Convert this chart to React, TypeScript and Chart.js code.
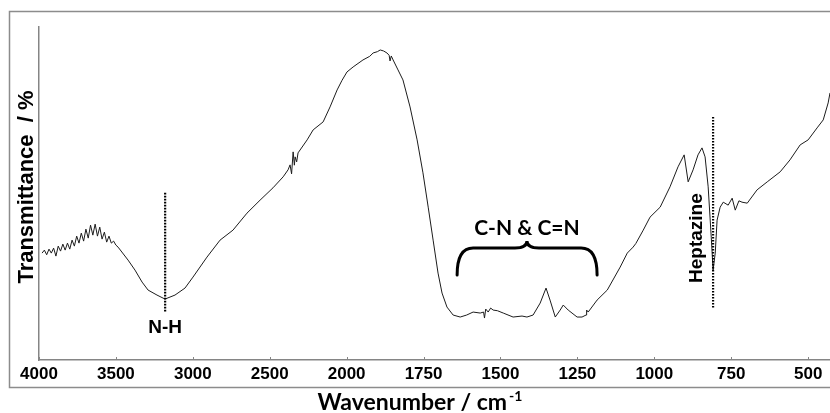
import { useEffect, useRef } from 'react';
import { Chart, LinearScale, registerables } from 'chart.js';

// FTIR spectrum of graphitic carbon nitride (wavenumber in cm^-1, transmittance in a.u. %)
const wavenumbers = [
  3980, 3965, 3950, 3935, 3920, 3905, 3890, 3875, 3860, 3845, 3830, 3815, 3800, 3785, 3770,
  3755, 3740, 3725, 3710, 3695, 3680, 3665, 3650, 3635, 3620, 3605, 3590, 3575, 3560, 3545,
  3530, 3515, 3500, 3486, 3421, 3376, 3330, 3291, 3233, 3181, 3116, 3051, 2999, 2908, 2823,
  2739, 2648, 2563, 2479, 2413, 2381, 2368, 2358, 2348, 2340, 2335, 2325, 2316, 2257, 2218,
  2153, 2108, 2062, 2030, 1999, 1979, 1947, 1925, 1914, 1900, 1891, 1880, 1869, 1862, 1859,
  1855, 1849, 1833, 1817, 1794, 1771, 1752, 1735, 1719, 1703, 1690, 1674, 1654, 1631, 1610,
  1589, 1566, 1555, 1552, 1548, 1540, 1532, 1524, 1510, 1491, 1459, 1430, 1414, 1394, 1371,
  1352, 1339, 1322, 1306, 1296, 1280, 1251, 1235, 1222, 1220, 1215, 1186, 1153, 1111, 1088,
  1069, 1060, 1036, 1014, 981, 949, 923, 903, 890, 874, 858, 845, 835, 825, 815,
  809, 802, 796, 786, 776, 760, 747, 737, 725, 715, 698, 666, 633, 591, 559,
  526, 500, 471, 451, 435, 429,
];
const transmittance = [
  32.1, 33.0, 31.6, 33.3, 32.1, 33.6, 31.2, 34.2, 32.7, 34.8, 33.0, 35.1, 33.3, 36.0, 34.2,
  37.2, 35.1, 38.1, 35.7, 39.3, 36.6, 40.5, 37.5, 40.8, 37.2, 39.9, 36.3, 38.4, 35.4, 37.2,
  35.1, 35.7, 34.5, 33.9, 30.0, 27.0, 23.4, 21.0, 19.5, 18.3, 19.5, 21.6, 24.9, 30.9, 36.0,
  39.0, 44.1, 48.0, 51.7, 55.0, 57.1, 58.6, 55.9, 62.5, 58.5, 61.0, 59.5, 62.2, 66.1, 69.1,
  71.5, 76.0, 81.1, 84.0, 86.5, 88.0, 90.1, 91.2, 92.2, 92.6, 93.1, 92.8, 92.2, 91.5, 89.8,
  91.3, 90.1, 87.1, 84.1, 76.0, 66.1, 56.2, 45.9, 36.0, 26.1, 20.1, 15.9, 13.5, 12.9, 13.5,
  14.4, 14.1, 14.4, 12.6, 15.3, 14.4, 15.6, 15.0, 14.8, 14.1, 12.9, 13.2, 12.9, 13.5, 17.1,
  21.6, 18.0, 12.9, 15.0, 16.5, 15.0, 12.9, 12.9, 13.5, 15.0, 14.4, 18.0, 21.0, 27.9, 32.1,
  33.9, 35.0, 39.0, 42.9, 45.9, 52.0, 58.0, 61.6, 53.5, 57.1, 61.6, 63.7, 61.0, 52.0, 36.9,
  27.0, 32.1, 42.0, 45.9, 47.4, 46.5, 48.6, 45.0, 47.8, 47.4, 47.1, 51.1, 53.5, 56.5, 60.1,
  64.6, 66.1, 69.7, 72.1, 77.2, 80.2,
];

const xTickValues = [4000, 3500, 3000, 2500, 2000, 1750, 1500, 1250, 1000, 750, 500];
const X_MIN = 429;
const X_MAX = 4000;
const SCALE_BREAK = 2000; // spectrometer doubles the expansion below 2000 cm^-1

const xTitle = 'Wavenumber / cm';
const xTitleSup = '-1';
const yTitle = 'Transmittance  / %';

// Band assignments
const nhBand = { label: 'N-H', wn: 3180, from: 14.4, to: 50.2, labelT: 8.1 };
const heptazineBand = { label: 'Heptazine', wn: 809, from: 15.6, to: 73.0, labelWn: 845, labelT: 36.6 };
const cnBand = { label: 'C-N & C=N', from: 1641, to: 1186, mid: 1414, braceT: 33.6, tipT: 25.5, cuspT: 35.7, labelT: 37.4 };

const SANS = '"Liberation Sans", Arial, sans-serif';
const CAL = 'Lato, "Open Sans", sans-serif';

// position in "panels": 500 cm^-1 per panel above the break, 250 cm^-1 below
function ftirPosition(wn: number, top: number) {
  const above = (top - SCALE_BREAK) / 500;
  return wn >= SCALE_BREAK ? (top - wn) / 500 : above + (SCALE_BREAK - wn) / 250;
}

class FtirScale extends LinearScale {
  static id = 'ftir';
  static defaults = LinearScale.defaults;
  getPixelForValue(value: number) {
    if (value === null || value === undefined || isNaN(value)) return NaN;
    const span = ftirPosition(this.min, this.max);
    return this.left + (ftirPosition(value, this.max) / span) * this.width;
  }
  getValueForPixel(pixel: number) {
    const span = ftirPosition(this.min, this.max);
    const p = ((pixel - this.left) / this.width) * span;
    const above = (this.max - SCALE_BREAK) / 500;
    return p <= above ? this.max - p * 500 : SCALE_BREAK - (p - above) * 250;
  }
}

Chart.register(...registerables, FtirScale as any);

const decorations = {
  id: 'ftirDecorations',
  afterDraw(chart: any) {
    const { ctx, scales } = chart;
    const xs = scales.x;
    const ys = scales.y;
    const area = chart.chartArea;
    ctx.save();

    // outer frame
    ctx.strokeStyle = '#8c8c8c';
    ctx.lineWidth = 1.5;
    ctx.strokeRect(9.5, 11.5, chart.width, 376);

    // small inward tick marks
    ctx.strokeStyle = '#858585';
    ctx.lineWidth = 1;
    xTickValues.forEach((v) => {
      const px = Math.round(xs.getPixelForValue(v)) + 0.5;
      ctx.beginPath();
      ctx.moveTo(px, area.bottom);
      ctx.lineTo(px, area.bottom - 3);
      ctx.stroke();
    });

    ctx.fillStyle = '#000';
    ctx.strokeStyle = '#000';

    // dotted band markers
    ctx.setLineDash([1.6, 1.4]);
    ctx.lineWidth = 2.2;
    [nhBand, heptazineBand].forEach((b) => {
      const px = xs.getPixelForValue(b.wn);
      ctx.beginPath();
      ctx.moveTo(px, ys.getPixelForValue(b.to));
      ctx.lineTo(px, ys.getPixelForValue(b.from));
      ctx.stroke();
    });
    ctx.setLineDash([]);

    // N-H label
    ctx.font = `bold 19px ${SANS}`;
    ctx.textAlign = 'center';
    ctx.textBaseline = 'alphabetic';
    ctx.fillText(nhBand.label, xs.getPixelForValue(nhBand.wn), ys.getPixelForValue(nhBand.labelT));

    // Heptazine label (vertical)
    ctx.save();
    ctx.translate(xs.getPixelForValue(heptazineBand.labelWn), ys.getPixelForValue(heptazineBand.labelT));
    ctx.rotate(-Math.PI / 2);
    ctx.font = `bold 19px ${SANS}`;
    ctx.fillText(heptazineBand.label, 0, 0);
    ctx.restore();

    // curly brace for the C-N / C=N stretching region
    const L = xs.getPixelForValue(cnBand.from);
    const R = xs.getPixelForValue(cnBand.to);
    const M = xs.getPixelForValue(cnBand.mid);
    const hy = ys.getPixelForValue(cnBand.braceT);
    const ty = ys.getPixelForValue(cnBand.tipT);
    const cy = ys.getPixelForValue(cnBand.cuspT);
    ctx.lineWidth = 3;
    ctx.lineCap = 'round';
    ctx.beginPath();
    ctx.moveTo(L, ty);
    ctx.quadraticCurveTo(L, hy, L + 16, hy);
    ctx.lineTo(M - 12, hy);
    ctx.quadraticCurveTo(M, hy, M, cy);
    ctx.quadraticCurveTo(M, hy, M + 12, hy);
    ctx.lineTo(R - 16, hy);
    ctx.quadraticCurveTo(R, hy, R, ty);
    ctx.stroke();

    ctx.font = `bold 21px ${CAL}`;
    ctx.textAlign = 'center';
    ctx.fillText(cnBand.label, M, ys.getPixelForValue(cnBand.labelT));

    // y axis title
    ctx.save();
    ctx.translate(33, 187);
    ctx.rotate(-Math.PI / 2);
    ctx.font = `bold 22px ${SANS}`;
    ctx.textAlign = 'center';
    ctx.fillText(yTitle, 0, 0);
    ctx.restore();

    // x axis title with superscript
    ctx.font = `bold 23px ${CAL}`;
    const w = ctx.measureText(xTitle).width;
    ctx.font = `bold 14px ${CAL}`;
    const sw = ctx.measureText(xTitleSup).width;
    const startX = 420 - (w + sw + 2) / 2;
    ctx.textAlign = 'left';
    ctx.font = `bold 23px ${CAL}`;
    ctx.fillText(xTitle, startX, 410);
    ctx.font = `bold 14px ${CAL}`;
    ctx.fillText(xTitleSup, startX + w + 2, 401);

    ctx.restore();
  },
};

export default function App() {
  const canvasRef = useRef<HTMLCanvasElement | null>(null);

  useEffect(() => {
    const canvas = canvasRef.current;
    if (!canvas) return;
    const points = wavenumbers.map((x, i) => ({ x, y: transmittance[i] }));
    const chart = new Chart(canvas, {
      type: 'line',
      data: {
        datasets: [
          {
            data: points,
            borderColor: '#1c1c1c',
            borderWidth: 1,
            pointRadius: 0,
            tension: 0,
            fill: false,
          },
        ],
      },
      options: {
        responsive: false,
        animation: false,
        events: [],
        layout: { padding: { left: 39, top: 27, right: 0, bottom: 0 } },
        plugins: { legend: { display: false }, tooltip: { enabled: false } },
        scales: {
          x: {
            type: 'ftir' as any,
            min: X_MIN,
            max: X_MAX,
            afterBuildTicks: (s: any) => {
              s.ticks = xTickValues.map((value) => ({ value }));
            },
            afterFit: (s: any) => {
              s.height = 53;
            },
            grid: { display: false, drawTicks: false },
            border: { display: true, color: '#858585', width: 1.5 },
            ticks: {
              autoSkip: false,
              maxRotation: 0,
              minRotation: 0,
              padding: 4,
              color: '#000',
              font: { family: SANS, size: 17, weight: 'bold' },
              callback: (v: any) => String(v),
            },
          },
          y: {
            type: 'linear',
            min: 0,
            max: 100,
            afterFit: (s: any) => {
              s.width = 0;
            },
            grid: { display: false, drawTicks: false },
            ticks: { display: false },
            border: { display: true, color: '#858585', width: 1.5 },
          },
        },
      } as any,
      plugins: [decorations],
    });
    return () => chart.destroy();
  }, []);

  return (
    <div style={{ position: 'fixed', left: 0, top: 0, width: 830, height: 413, background: '#fff' }}>
      <canvas ref={canvasRef} width={830} height={413} />
    </div>
  );
}
